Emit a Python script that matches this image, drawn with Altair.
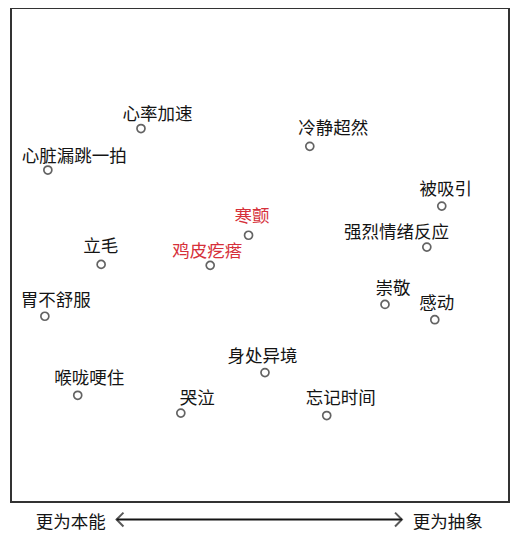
import altair as alt
import pandas as pd

# Emotion / bodily-response labels
names = ["心率加速", "心脏漏跳一拍", "立毛", "鸡皮疙瘩", "寒颤", "冷静超然", "被吸引",
         "强烈情绪反应", "崇敬", "感动", "胃不舒服", "喉咙哽住", "哭泣", "身处异境", "忘记时间"]
# point positions (0-100 scale, left = more instinctive, right = more abstract)
xs = [26.1, 7.4, 18.1, 40.0, 47.7, 60.0, 86.5, 83.5, 75.1, 85.1, 6.8, 13.4, 34.1, 51.0, 63.4]
ys = [75.6, 67.2, 48.1, 47.9, 54.0, 72.0, 59.9, 51.6, 40.0, 36.9, 37.6, 21.6, 18.0, 26.2, 17.5]
# label anchor positions (same scale)
label_x = [29.4, 12.7, 18.0, 39.4, 48.4, 64.7, 87.3, 77.4, 76.7, 85.5, 9.0, 15.7, 37.4, 50.5, 66.2]
label_y = [78.4, 69.9, 51.6, 50.6, 57.7, 75.6, 63.1, 54.4, 43.1, 40.1, 40.6, 24.9, 20.9, 29.4, 20.9]
highlight = [False, False, False, True, True, False, False, False, False, False, False, False, False, False, False]

# bottom axis annotation
axis_labels = ["更为本能", "更为抽象"]
axis_label_x = [12.0, 87.7]
axis_label_y = [-4.2, -4.2]
arrow_x = [21.2, 78.5]
arrow_y = -3.55

df = pd.DataFrame({"name": names, "x": xs, "y": ys, "lx": label_x, "ly": label_y,
                   "hl": ["red" if h else "black" for h in highlight]})
adf = pd.DataFrame({"t": axis_labels, "x": axis_label_x, "y": axis_label_y})
heads = pd.DataFrame({"x": arrow_x, "y": [arrow_y, arrow_y],
                      "side": ["left", "right"]})

FONT = "Noto Sans CJK SC"
xsc = alt.Scale(domain=[0, 100], nice=False, zero=False)
ysc = alt.Scale(domain=[0, 100], nice=False, zero=False)

points = alt.Chart(df).mark_point(filled=False, size=64, strokeWidth=1.7, color="#222").encode(
    x=alt.X("x:Q", scale=xsc, axis=None),
    y=alt.Y("y:Q", scale=ysc, axis=None),
)

labels = alt.Chart(df).mark_text(font=FONT, fontSize=17.5, align="center", baseline="middle").encode(
    x=alt.X("lx:Q", scale=xsc, axis=None),
    y=alt.Y("ly:Q", scale=ysc, axis=None),
    text="name:N",
    color=alt.Color("hl:N", scale=alt.Scale(domain=["black", "red"], range=["#141414", "#d6303a"]), legend=None),
)

axis_text = alt.Chart(adf).mark_text(font=FONT, fontSize=17.5, align="center", baseline="middle", color="#141414").encode(
    x=alt.X("x:Q", scale=xsc, axis=None),
    y=alt.Y("y:Q", scale=ysc, axis=None),
    text="t:N",
)

arrow_line = alt.Chart(heads).mark_rule(strokeWidth=2, color="#141414").encode(
    x=alt.X("min(x):Q", scale=xsc, axis=None),
    x2="max(x):Q",
    y=alt.Y("mean(y):Q", scale=ysc, axis=None),
)

left_head = alt.Chart(heads).transform_filter(alt.datum.side == "left").mark_point(
    shape="M1,-1L0,0L1,1", filled=False, size=190, strokeWidth=2, color="#141414").encode(
    x=alt.X("x:Q", scale=xsc, axis=None),
    y=alt.Y("y:Q", scale=ysc, axis=None),
)
right_head = alt.Chart(heads).transform_filter(alt.datum.side == "right").mark_point(
    shape="M-1,-1L0,0L-1,1", filled=False, size=190, strokeWidth=2, color="#141414").encode(
    x=alt.X("x:Q", scale=xsc, axis=None),
    y=alt.Y("y:Q", scale=ysc, axis=None),
)

chart = alt.layer(points, labels, axis_text, arrow_line, left_head, right_head).properties(
    width=498, height=494,
    background="white",
    padding={"left": 3, "top": 0, "right": 5, "bottom": 5},
).configure_view(stroke="#333333", strokeWidth=2)

chart.save("out.html", embed_options={"renderer": "svg", "actions": False})
